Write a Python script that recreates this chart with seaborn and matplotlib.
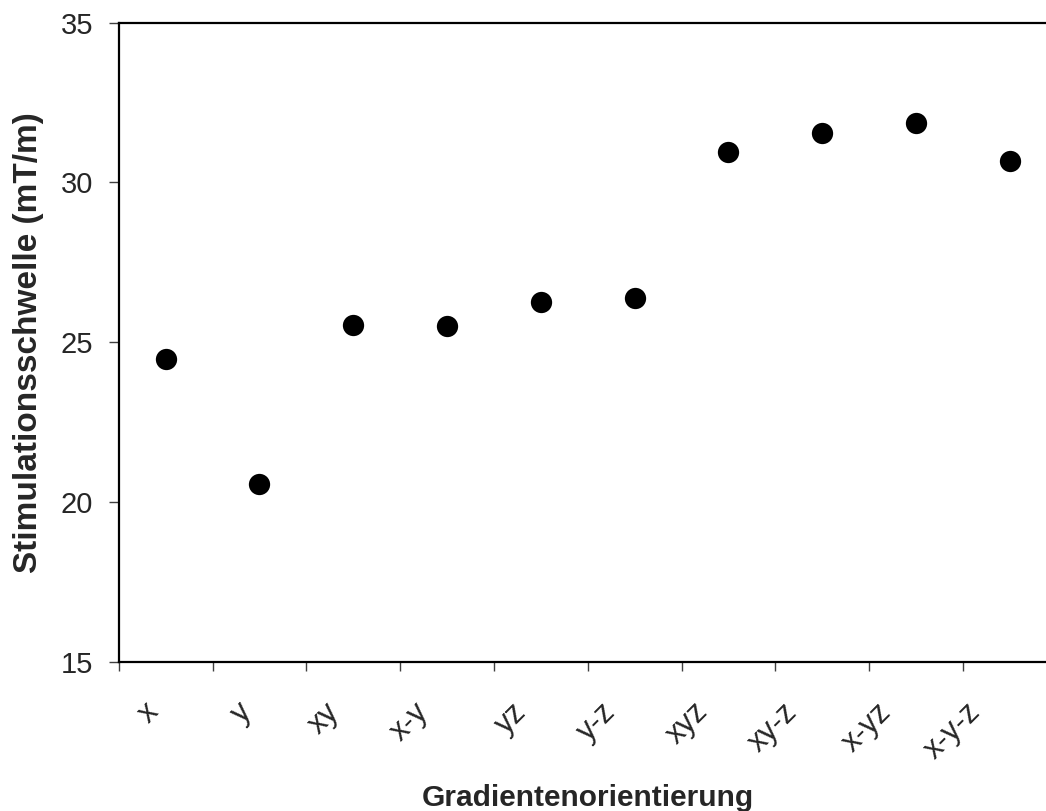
import matplotlib
matplotlib.use("Agg")
import matplotlib.pyplot as plt
import matplotlib.transforms as mtransforms
from matplotlib.font_manager import FontProperties
from matplotlib.textpath import TextPath
import seaborn as sns
import pandas as pd

# Stimulationsschwelle je Gradientenorientierung (mT/m)
orientations = ["x", "y", "xy", "x-y", "yz", "y-z", "xyz", "xy-z", "x-yz", "x-y-z"]
thresholds = [24.47, 20.58, 25.55, 25.50, 26.27, 26.39, 30.94, 31.55, 31.87, 30.66]
y_ticks = [15, 20, 25, 30, 35]

df = pd.DataFrame({"orientation": orientations, "threshold": thresholds})

sns.set_theme(style="ticks")
plt.rcParams["font.family"] = ["Liberation Sans", "DejaVu Sans"]

fig = plt.figure(figsize=(10.46, 8.11), dpi=100)
# plot area runs slightly past the right edge of the picture, like the original
ax = fig.add_axes([118.7 / 1046, 149 / 811, 938 / 1046, 639.5 / 811])

sns.scatterplot(data=df, x="orientation", y="threshold", ax=ax,
                color="black", s=235, edgecolor="black", linewidth=0, zorder=3)

ax.set_xlim(-0.5, len(orientations) - 0.5)
ax.set_ylim(15, 35)
ax.set_yticks(y_ticks)
ax.set_yticklabels([str(t) for t in y_ticks], fontsize=21)

# labels at category centres, tick marks at category boundaries
xt_size = 22
ax.set_xticks(range(len(orientations)))
ax.set_xticklabels(orientations, fontsize=xt_size, rotation=45,
                   ha="right", va="top", rotation_mode="anchor")
ax.set_xticks([i - 0.5 for i in range(len(orientations) + 1)], minor=True)
ax.tick_params(axis="x", which="major", length=0, pad=25)
ax.tick_params(axis="x", which="minor", length=6.5, width=1, color="#404040", direction="out")
ax.tick_params(axis="y", which="major", length=7.2, width=1, color="#404040", direction="out", pad=11.3)

# longer labels sit further left of their category, as in the original
fp = FontProperties(family="Liberation Sans", size=xt_size)
for lbl in ax.get_xticklabels():
    w_px = TextPath((0, 0), lbl.get_text(), prop=fp).get_extents().width * 100 / 72
    shift = mtransforms.ScaledTranslation(-(16 + 0.45 * w_px) / 100, 0, fig.dpi_scale_trans)
    lbl.set_transform(lbl.get_transform() + shift)

for side in ["left", "bottom", "top", "right"]:
    ax.spines[side].set_visible(True)
    ax.spines[side].set_linewidth(1.6)
    ax.spines[side].set_color("black")

ax.set_xlabel("Gradientenorientierung", fontsize=21.5, fontweight="bold", va="baseline")
ax.xaxis.set_label_coords(0.5, (5 - 149) / 639.5)
ax.set_ylabel("Stimulationsschwelle (mT/m)", fontsize=24, fontweight="bold", va="baseline")
ax.yaxis.set_label_coords((37 - 118.7) / 938, 0.5)
ax.grid(False)

fig.savefig("out.png", dpi=100)
